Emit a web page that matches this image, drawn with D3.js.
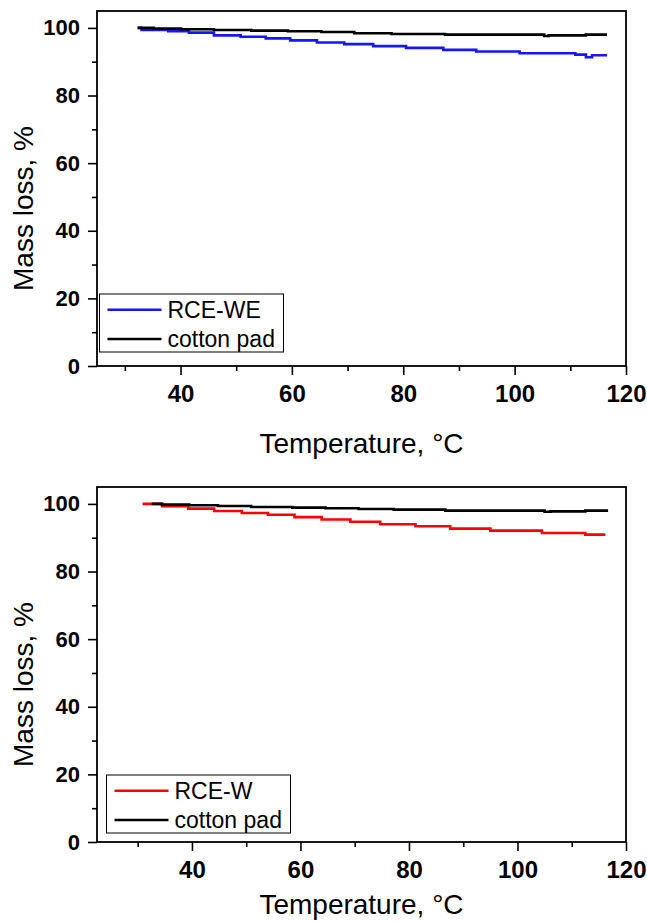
<!DOCTYPE html>
<html>
<head>
<meta charset="utf-8">
<script src="https://cdn.jsdelivr.net/npm/d3@7"></script>
<style>
  body { margin: 0; background: #fff; }
  svg text { font-family: "Liberation Sans", Arial, sans-serif; fill: #000; }
</style>
</head>
<body>
<div id="chart"></div>
<script>
// Panel (a): RCE-WE vs cotton pad
var topTempRCE = [32.3, 33.0, 37.8, 41.5, 46.0, 50.8, 55.3, 59.7, 64.5, 69.4, 74.6, 80.5, 87.2, 93.1, 100.9, 110.9, 112.8, 113.9, 116.6];
var topMassRCE = [100, 99.4, 99.0, 98.6, 97.8, 97.4, 96.9, 96.3, 95.7, 95.2, 94.6, 94.1, 93.5, 93.0, 92.5, 92.1, 91.3, 91.9, 91.9];
var topTempCotton = [32.3, 35.2, 40.1, 46.0, 52.7, 59.3, 65.3, 71.2, 77.9, 87.5, 105.3, 106.1, 112.8, 116.6];
var topMassCotton = [100, 99.8, 99.6, 99.4, 99.2, 99.0, 98.8, 98.4, 98.2, 98.0, 97.6, 97.8, 98.0, 98.0];

// Panel (b): RCE-W vs cotton pad
var botTempRCE = [30.9, 34.5, 39.3, 44.1, 49.2, 54.0, 58.9, 63.9, 69.2, 74.7, 81.2, 87.6, 95.0, 104.5, 112.5, 116.2];
var botMassRCE = [100, 99.3, 98.6, 97.9, 97.3, 96.8, 96.1, 95.4, 94.7, 94.0, 93.4, 92.7, 92.1, 91.4, 90.9, 90.9];
var botTempCotton = [32.6, 34.5, 39.5, 44.8, 50.9, 58.5, 64.6, 70.7, 77.2, 86.7, 105.0, 106.1, 112.5, 116.7];
var botMassCotton = [100, 99.8, 99.6, 99.4, 99.1, 98.9, 98.7, 98.5, 98.3, 98.0, 97.7, 97.8, 98.0, 98.0];

var xMajor = [40, 60, 80, 100, 120];
var xMinor = [30, 50, 70, 90, 110];
var yMajor = [0, 20, 40, 60, 80, 100];
var yMinor = [10, 30, 50, 70, 90];

var svgWidth = 647;
var svgHeight = 922;

var svg = d3.select("#chart")
    .append("svg")
    .attr("width", svgWidth)
    .attr("height", svgHeight);

svg.append("rect").attr("width", svgWidth).attr("height", svgHeight).attr("fill", "#fff");

function zip(t, m) {
    return t.map(function(d, i) { return { t: d, m: m[i] }; });
}

function drawPanel(p) {
    var width = 529;
    var height = 355;
    var g = svg.append("g")
        .attr("transform", `translate(${p.left},${p.top})`);

    var x = d3.scaleLinear().domain(p.xDomain).range([0, width]);
    var y = d3.scaleLinear().domain([0, 105]).range([height, 0]);

    // minor ticks
    g.append("g")
        .attr("transform", `translate(0,${height})`)
        .call(d3.axisBottom(x).tickValues(xMinor).tickSize(5).tickFormat(""))
        .call(s => s.select(".domain").remove());
    g.append("g")
        .call(d3.axisLeft(y).tickValues(yMinor).tickSize(5).tickFormat(""))
        .call(s => s.select(".domain").remove());

    var xAxis = g.append("g")
        .attr("transform", `translate(0,${height})`)
        .call(d3.axisBottom(x).tickValues(xMajor).tickSize(9).tickPadding(10).tickSizeOuter(0));
    var yAxis = g.append("g")
        .call(d3.axisLeft(y).tickValues(yMajor).tickSize(9).tickPadding(8).tickSizeOuter(0));

    xAxis.selectAll("text").style("font-size", "24px");
    yAxis.selectAll("text").style("font-size", "22px");
    [xAxis, yAxis].forEach(function(a) {
        a.selectAll("text")
            .style("font-weight", "bold")
            .attr("fill", "#000");
        a.select(".domain").remove();
    });
    g.selectAll(".tick line").attr("stroke", "#000").attr("stroke-width", 1.6);

    // frame
    g.append("rect")
        .attr("width", width)
        .attr("height", height)
        .attr("fill", "none")
        .attr("stroke", "#000")
        .attr("stroke-width", 1.8);

    var line = d3.line()
        .x(d => x(d.t))
        .y(d => y(d.m))
        .curve(d3.curveStepAfter);

    g.append("path")
        .datum(zip(p.rceT, p.rceM))
        .attr("fill", "none")
        .attr("stroke", p.color)
        .attr("stroke-width", 2.6)
        .attr("d", line);

    g.append("path")
        .datum(zip(p.cotT, p.cotM))
        .attr("fill", "none")
        .attr("stroke", "#000")
        .attr("stroke-width", 2.6)
        .attr("d", line);

    // legend
    var lg = g.append("g").attr("transform", `translate(${p.legX},${p.legY})`);
    lg.append("rect")
        .attr("width", 184)
        .attr("height", 58)
        .attr("fill", "#fff")
        .attr("stroke", "#000")
        .attr("stroke-width", 1);
    var items = [{ name: p.name, color: p.color }, { name: "cotton pad", color: "#000" }];
    items.forEach(function(it, i) {
        var ly = 15.7 + i * 29.3;
        lg.append("line")
            .attr("x1", 8).attr("x2", 62)
            .attr("y1", ly).attr("y2", ly)
            .attr("stroke", it.color)
            .attr("stroke-width", 2.6);
        lg.append("text")
            .attr("x", 68)
            .attr("y", ly + 8)
            .style("font-size", "23px")
            .text(it.name);
    });

    // axis titles
    g.append("text")
        .attr("x", width / 2)
        .attr("y", p.xTitleY)
        .attr("text-anchor", "middle")
        .style("font-size", "28px")
        .text("Temperature, °C");

    g.append("text")
        .attr("transform", "rotate(-90)")
        .attr("x", -(height / 2 + 20))
        .attr("y", -64)
        .attr("text-anchor", "middle")
        .style("font-size", "28px")
        .text("Mass loss, %");
}

drawPanel({
    left: 97, top: 11, xDomain: [25, 120],
    rceT: topTempRCE, rceM: topMassRCE, cotT: topTempCotton, cotM: topMassCotton,
    color: "#1515ff", name: "RCE-WE", legX: 2.5, legY: 283, xTitleY: 442
});

drawPanel({
    left: 97, top: 487, xDomain: [22.5, 120],
    rceT: botTempRCE, rceM: botMassRCE, cotT: botTempCotton, cotM: botMassCotton,
    color: "#ff0000", name: "RCE-W", legX: 9.5, legY: 288, xTitleY: 427
});
</script>
</body>
</html>
